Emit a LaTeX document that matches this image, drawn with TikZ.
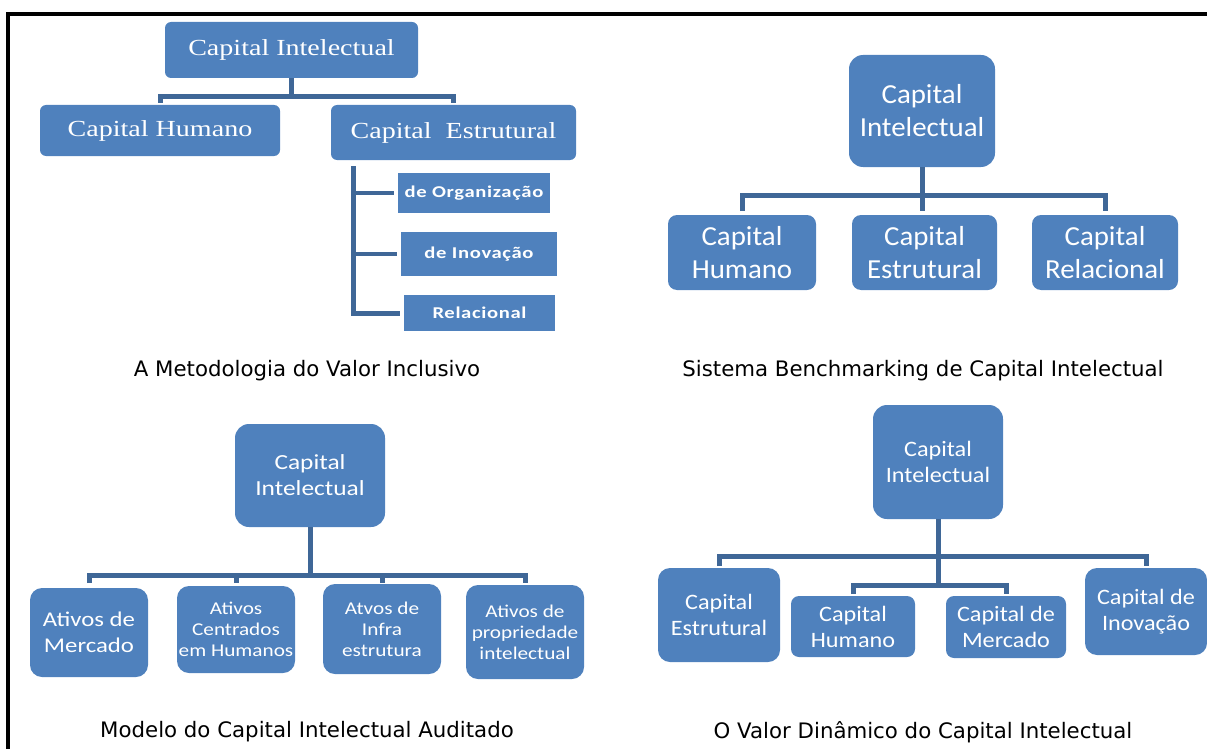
\documentclass[tikz,border=0pt]{standalone}
\usepackage{fontspec}
\newfontfamily\serifbox[FakeStretch=1.22]{Liberation Serif}
\newfontfamily\calib[FakeStretch=1.05]{Carlito}
\newfontfamily\calibwide[FakeStretch=1.18]{Carlito}
\newfontfamily\calibmid[FakeStretch=1.1]{Carlito}
\newfontfamily\spaced[FakeStretch=1.25,LetterSpace=4]{Carlito}
\newfontfamily\capfont{DejaVu Sans}
\definecolor{boxblue}{HTML}{4F81BD}
\definecolor{lineblue}{HTML}{3F6797}
\tikzset{
  box/.style={fill=boxblue, draw=none, rounded corners=9pt, text=white, align=center, inner sep=0pt},
  flatbox/.style={fill=boxblue, draw=none, text=white, align=center, inner sep=0pt},
  conn/.style={draw=lineblue, line width=5pt},
  thin conn/.style={draw=lineblue, line width=4.5pt},
  caption/.style={font=\capfont\fontsize{21.3}{24}\selectfont, text=black}
}
\begin{document}
\begin{tikzpicture}[x=1pt,y=-1pt]
\useasboundingbox (0,0) rectangle (1207,749);
% frame on the top and the left
\fill[black] (6,12) rectangle (1207,16);
\fill[black] (6,12) rectangle (10,749);

% ---------- A Metodologia do Valor Inclusivo ----------
\begin{scope}[every node/.append style={font=\serifbox\fontsize{23}{26}\selectfont}]
\node[box, rounded corners=6pt, minimum width=253pt, minimum height=56pt] (ci1) at (291.5,50) {Capital Intelectual};
\node[box, rounded corners=6pt, minimum width=240pt, minimum height=51pt] (ch1) at (160,130.5) {Capital Humano};
\node[box, rounded corners=6pt, minimum width=245pt, minimum height=55pt] (ce1) at (453.5,132.5) {Capital\ \ Estrutural};
\end{scope}
\begin{scope}[every node/.append style={font=\spaced\bfseries\fontsize{16.5}{18}\selectfont}]
\node[flatbox, minimum width=152pt, minimum height=40pt] (org) at (474,193) {de Organização};
\node[flatbox, minimum width=156pt, minimum height=44pt] (ino) at (479,254) {de Inovação};
\node[flatbox, minimum width=151pt, minimum height=36pt] (rel) at (479.5,313) {Relacional};
\end{scope}
\coordinate (bus1) at (292,97);
\coordinate (tick1) at (0,103);
\draw[conn] (ci1.south) -- (ci1.south |- bus1);
\draw[conn] (ch1.north |- tick1) -- (ch1.north |- bus1) -- (ce1.north |- bus1) -- (ce1.north |- tick1);
\coordinate (spine) at (353,166);
\draw[conn] (spine) |- ([xshift=-4pt]rel.west);
\draw[thin conn] (spine |- org.west) -- ([xshift=-4pt]org.west);
\draw[thin conn] (spine |- ino.west) -- ([xshift=-4pt]ino.west);
\node[caption] (t1) at (307,370.5) {A Metodologia do Valor Inclusivo};

% ---------- Sistema Benchmarking de Capital Intelectual ----------
\begin{scope}[every node/.append style={font=\calib\fontsize{27.5}{33}\selectfont}]
\node[box, rounded corners=14pt, minimum width=146pt, minimum height=112pt] (ci2) at (922,111) {Capital\\Intelectual};
\node[box, minimum width=148pt, minimum height=75pt] (h2) at (742,252.5) {Capital\\Humano};
\node[box, minimum width=145pt, minimum height=75pt] (e2) at (924.5,252.5) {Capital\\Estrutural};
\node[box, minimum width=146pt, minimum height=75pt] (r2) at (1105,252.5) {Capital\\Relacional};
\end{scope}
\coordinate (bus2) at (922,195);
\coordinate (tick2) at (0,211);
\draw[conn] (ci2.south) -- (ci2.south |- bus2);
\draw[conn] (h2.north |- tick2) -- (h2.north |- bus2) -- (r2.north |- bus2) -- (r2.north |- tick2);
\draw[conn] (bus2) -- (bus2 |- tick2);
\node[caption] (t2) at (923,370.5) {Sistema Benchmarking de Capital Intelectual};

% ---------- Modelo do Capital Intelectual Auditado ----------
\node[box, rounded corners=14pt, minimum width=150pt, minimum height=103pt, font=\calibwide\fontsize{21.5}{26}\selectfont] (ci3) at (310,475.5) {Capital\\Intelectual};
\begin{scope}[every node/.append style={font=\calibwide\fontsize{18}{21}\selectfont}]
\node[box, rounded corners=12pt, minimum width=118pt, minimum height=89pt, font=\calibwide\fontsize{21}{26}\selectfont] (m3) at (89,632.5) {Ativos de\\Mercado};
\node[box, rounded corners=12pt, minimum width=118pt, minimum height=87pt] (hu3) at (236,629.5) {Ativos\\Centrados\\em Humanos};
\node[box, rounded corners=12pt, minimum width=118pt, minimum height=90pt] (in3) at (382,629) {Atvos de\\Infra\\estrutura};
\node[box, rounded corners=12pt, minimum width=118pt, minimum height=94pt] (pi3) at (525,632) {Ativos de\\propriedade\\intelectual};
\end{scope}
\coordinate (bus3) at (310,575);
\coordinate (tick3) at (0,583);
\draw[conn] (ci3.south) -- (ci3.south |- bus3);
\draw[conn] (m3.north |- tick3) -- (m3.north |- bus3) -- (pi3.north |- bus3) -- (pi3.north |- tick3);
\draw[conn] (hu3.north |- bus3) -- (hu3.north |- tick3);
\draw[conn] (in3.north |- bus3) -- (in3.north |- tick3);
\node[caption] (t3) at (307,732) {Modelo do Capital Intelectual Auditado};

% ---------- O Valor Dinâmico do Capital Intelectual ----------
\begin{scope}[every node/.append style={font=\calibmid\fontsize{22}{26}\selectfont}]
\node[box, rounded corners=14pt, minimum width=130pt, minimum height=114pt] (ci4) at (938,462) {Capital\\Intelectual};
\node[box, rounded corners=12pt, minimum width=122pt, minimum height=94pt] (es4) at (719,615) {Capital\\Estrutural};
\node[box, rounded corners=8pt, minimum width=124pt, minimum height=61pt] (hu4) at (853,626.5) {Capital\\Humano};
\node[box, rounded corners=8pt, minimum width=120pt, minimum height=62pt] (me4) at (1006,627) {Capital de\\Mercado};
\node[box, rounded corners=12pt, minimum width=122pt, minimum height=87pt] (iv4) at (1146,611.5) {Capital de\\Inovação};
\end{scope}
\coordinate (bus4) at (938,556);
\coordinate (tick4) at (0,566);
\coordinate (bus5) at (938,585);
\coordinate (tick5) at (0,594);
\draw[conn] (ci4.south) -- (ci4.south |- bus5);
\draw[conn] (es4.north |- tick4) -- (es4.north |- bus4) -- (iv4.north |- bus4) -- (iv4.north |- tick4);
\draw[conn] (hu4.north |- tick5) -- (hu4.north |- bus5) -- (me4.north |- bus5) -- (me4.north |- tick5);
\node[caption] (t4) at (923,732) {O Valor Dinâmico do Capital Intelectual};
\end{tikzpicture}
\end{document}
